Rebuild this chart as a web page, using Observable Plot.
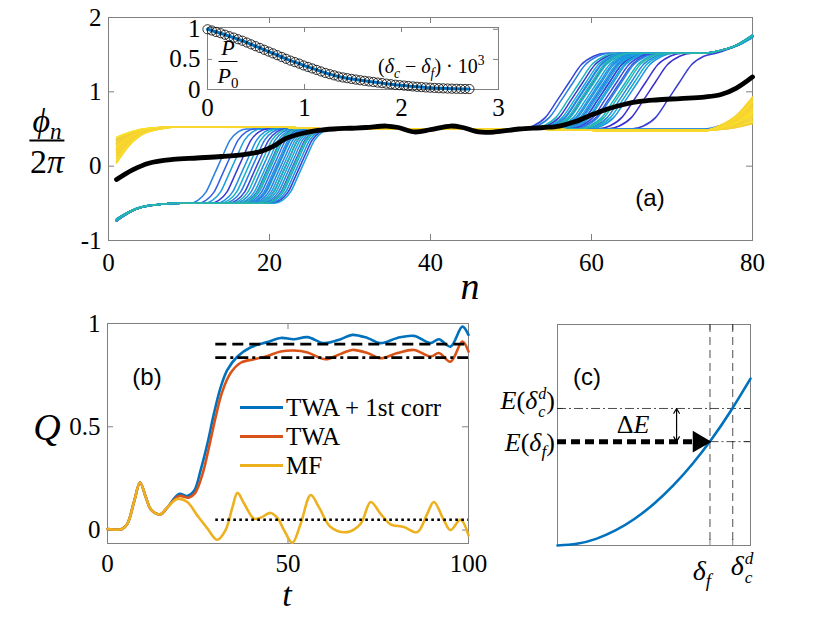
<!DOCTYPE html>
<html><head><meta charset="utf-8">
<script src="https://cdn.jsdelivr.net/npm/d3@7"></script>
<script src="https://cdn.jsdelivr.net/npm/@observablehq/plot@0.6"></script>
<style>
body{margin:0;background:#fff;}
#wrap{position:relative;width:830px;height:623px;overflow:hidden;background:#fff;}
#wrap svg{position:absolute;overflow:visible;}
#wrap svg text{font-family:"Liberation Serif","Times New Roman",serif !important;font-size:25px !important;fill:#000;}
.lbl{position:absolute;font-family:"Liberation Serif","Times New Roman",serif;color:#000;white-space:nowrap;line-height:1;}
.sans{font-family:"Liberation Sans",Arial,Helvetica,sans-serif !important;}
.frac{display:inline-flex;flex-direction:column;align-items:center;}
.frac .num{border-bottom:2px solid #000;padding:0 3px 2px 3px;}
.frac .den{padding-top:3px;}
.ss{display:inline-flex;flex-direction:column;vertical-align:middle;font-size:0.62em;line-height:0.85;gap:4px;margin-left:1px;}
sub,sup{font-size:0.68em;line-height:0;}
.sw{position:absolute;height:3px;}
</style></head><body><div id="wrap"></div>
<script>
// ---------- Panel (a) data ----------
const nTicks = [0, 20, 40, 60, 80];
const phiTicks = [-1, 0, 1, 2];
// transition profile of one phase slip (fraction of the 1-unit jump at offsets from centre)
const slipOffset = [-3.5, -2.5, -1.5, -0.5, 0.5, 1.5, 2.5, 3.5];
const slipFrac   = [0, 0.04, 0.15, 0.38, 0.62, 0.85, 0.96, 1];
// start ramp (n, fraction)
const rampN = [1, 2, 3, 4, 6, 9];
const rampF = [0, 0.32, 0.58, 0.76, 0.92, 1];
// end ramp (n, fraction)
const endN = [74, 76, 78, 80];
const endF = [0, 0.15, 0.45, 1];
// plateau levels
const lowLevel = -0.5, midLevel = 0.5, topLevel = 1.52;
const upperN = [12, 20, 28, 40, 52, 62, 72];
const upperY = [0.53, 0.53, 0.5, 0.5, 0.5, 0.48, 0.48];
// trajectories: colormap position, start value, left slip centre, right slip centre, end value
const trajK = [0.05,0.0,0.12,
  0.2,0.12,0.3,0.02,0.25,0.45,0.18,0.05,0.52,0.22,0.33,0.1,0.38,0.15,0.27,0.5,0.2,0.3,0.0,0.34,0.23,0.06,0.4,0.26,0.03,0.32,0.58,0.2,0.55,0.6,
  0.8,0.86,0.9,0.78,0.95,0.83,0.88,0.92,0.8,0.85,0.98,0.82,0.9,0.87,0.79,0.94,0.84,0.91,0.81,0.96,0.86,0.89];
const trajStart = [0.30,0.36,0.22,
  -0.73,-0.74,-0.72,-0.73,-0.71,-0.74,-0.73,-0.72,-0.74,-0.73,-0.72,-0.73,-0.71,-0.74,-0.73,-0.72,-0.73,-0.74,-0.72,-0.73,-0.71,-0.73,-0.72,-0.74,-0.73,-0.72,-0.73,-0.74,-0.72,-0.73,
  0.06,0.10,0.14,0.18,0.21,0.24,0.27,0.30,0.33,0.36,0.39,0.12,0.20,0.28,0.35,0.08,0.16,0.25,0.31,0.38,0.22,0.04];
const trajLeft = [null,null,null,
  13.6,14.6,15.4,16.2,16.9,17.4,17.9,18.4,18.8,19.2,19.6,19.9,20.2,20.5,20.8,21.1,21.4,21.7,22.0,22.3,22.6,22.9,23.2,23.5,23.8,24.1,20.0,21.0,22.0,23.0,
  null,null,null,null,null,null,null,null,null,null,null,null,null,null,null,null,null,null,null,null,null,null];
const trajRight = [56.5,66.0,61.5,
  57.0,59.5,62.0,58.2,60.5,63.5,59.0,61.5,57.8,64.2,60.0,62.8,58.6,61.0,65.0,59.6,63.0,60.8,67.2,61.8,58.9,62.4,64.6,60.3,70.2,61.2,null,null,59.3,63.8,
  null,null,null,null,null,null,null,null,null,null,null,null,null,null,null,null,null,null,null,null,null,null];
const trajEnd = [1.75,1.74,1.76,
  1.75,1.74,1.76,1.75,1.73,1.76,1.75,1.74,1.77,1.75,1.74,1.76,1.75,1.73,1.76,1.75,1.74,1.76,1.75,1.74,1.76,1.75,1.74,1.76,1.75,1.74,0.7,0.82,1.75,1.76,
  0.57,0.62,0.66,0.70,0.74,0.78,0.82,0.86,0.90,0.93,0.60,0.68,0.76,0.84,0.64,0.72,0.80,0.88,0.58,0.70,0.92,0.75];
// mean phase (black)
const meanN = [1,3,5,8,11,14,17,19,20.5,22,24,26,28,30,32,34.5,36,38,40,42.5,44,46,48,51,54,56,58,60,62,64,66,68,71,74,76,78,80];
const meanY = [-0.18,-0.05,0.04,0.09,0.11,0.13,0.16,0.2,0.27,0.37,0.44,0.48,0.5,0.51,0.52,0.54,0.52,0.46,0.49,0.54,0.52,0.46,0.46,0.5,0.52,0.54,0.6,0.69,0.77,0.83,0.87,0.89,0.91,0.93,0.96,1.05,1.2];
// inset P/P0 vs (delta_c - delta_f)*1e3
const insetTicksX = [0, 1, 2, 3];
const insetTicksY = [0, 0.5, 1];
const insetX = d3.range(61).map(i => i * 0.045);
const insetP = [1.00,0.98,0.955,0.935,0.91,0.885,0.862,0.835,0.81,0.78,0.75,0.72,0.69,0.66,0.63,0.60,0.57,0.54,0.51,0.48,0.455,0.43,0.40,0.375,0.35,0.325,0.30,0.275,0.255,0.235,0.215,0.20,0.188,0.176,0.165,0.154,0.144,0.134,0.125,0.115,0.106,0.097,0.088,0.079,0.072,0.065,0.058,0.051,0.045,0.040,0.034,0.030,0.026,0.022,0.019,0.016,0.014,0.012,0.010,0.009,0.008];

// ---------- Panel (b) data ----------
const tTicks = [0, 50, 100];
const qTicks = [0, 0.5, 1];
const corrT = [0,4,5.5,7.4,9,10.6,12,14.6,16.6,19.8,22.1,24,25.8,27.7,29.5,31.4,33.2,36,39.7,44.3,48,51.6,55.4,60,64.6,67.8,72,75.6,80.3,84.9,89.5,91.8,95,98.3,100];
const corrQ = [0.005,0.005,0.03,0.14,0.23,0.16,0.10,0.076,0.11,0.175,0.165,0.19,0.29,0.42,0.565,0.694,0.775,0.84,0.885,0.91,0.93,0.924,0.934,0.905,0.924,0.945,0.93,0.905,0.93,0.94,0.905,0.924,0.888,0.985,0.945];
const twaT = [0,4,5.5,7.4,9,10.6,12,14.6,16.6,19.8,22.5,24.3,26.3,28.1,30,31.8,34.1,36.9,40.6,44.3,48,51.6,55.4,60.4,64.6,67.8,72,75.6,80.3,84.9,89.5,91.8,95,98.3,100];
const twaQ = [0.005,0.005,0.03,0.14,0.23,0.16,0.10,0.076,0.11,0.165,0.157,0.18,0.27,0.40,0.55,0.67,0.76,0.81,0.827,0.843,0.864,0.869,0.86,0.827,0.853,0.872,0.857,0.832,0.857,0.872,0.84,0.857,0.815,0.913,0.864];
const mfT = [0,4,5.5,7.4,9,10.6,12,14.6,16.6,19.4,22.1,24.9,27.7,30.4,32.7,34.6,36,37.8,40.6,42.4,45.2,47,48.9,51.2,53.5,56.3,58.6,61.8,66.4,70.1,72.9,75.6,78.4,82.1,85.8,88.6,90.4,93.2,95,97.8,100];
const mfQ = [0.005,0.005,0.03,0.14,0.23,0.16,0.10,0.076,0.11,0.15,0.136,0.07,0.007,-0.047,0,0.11,0.18,0.13,0.055,0.06,0.083,0.06,0.0,-0.062,0.03,0.17,0.11,0.015,-0.01,0.03,0.136,0.08,0.028,0.015,-0.01,0.08,0.136,0.047,0,0.05,-0.026];
const refStartT = 30;
const refCorr = 0.9, refTwa = 0.835, refMf = 0.05;

// ---------- Panel (c) data ----------
const deltaX = [0,0.1,0.2,0.3,0.4,0.5,0.6,0.7,0.8,0.9,1.0];
const energy = [0,0.0076,0.030,0.068,0.121,0.189,0.272,0.370,0.483,0.612,0.755];
const deltaF = 0.79, deltaC = 0.908;
const energyF = 0.47, energyC = 0.62;
const deltaEAt = 0.617;

// ---------- helpers ----------
const wrap = document.getElementById("wrap");
const gray = "#808080";
const serif = "Liberation Serif, Times New Roman, serif";
const colorStops = ["#3a30d0","#2f6fe6","#1b9fe0","#14b3c6","#2ab7a6","#f0c83a","#fad92c","#f8e726"];
const colorAt = d3.scaleLinear().domain([0,0.15,0.3,0.45,0.6,0.75,0.9,1]).range(colorStops).interpolate(d3.interpolateRgb);
function place(svg, left, top) { svg.style.left = left + "px"; svg.style.top = top + "px"; wrap.appendChild(svg); }
function label(html, x, y, {size = 24, ax = -50, ay = -50, cls = ""} = {}) {
  const d = document.createElement("div");
  d.className = "lbl " + cls;
  d.style.left = x + "px"; d.style.top = y + "px"; d.style.fontSize = size + "px";
  d.style.transform = `translate(${ax}%,${ay}%)`;
  d.innerHTML = html; wrap.appendChild(d); return d;
}
function boxTicks(xt, yt, fw, fh, len = 6) {
  return [
    Plot.tickX(xt, {x: d => d, insetTop: fh - len, stroke: gray}),
    Plot.tickX(xt, {x: d => d, insetBottom: fh - len, stroke: gray}),
    Plot.tickY(yt, {y: d => d, insetRight: fw - len, stroke: gray}),
    Plot.tickY(yt, {y: d => d, insetLeft: fw - len, stroke: gray})
  ];
}
const fmt = d => String(d);

// build trajectories
const rows = [];
trajK.forEach((k, i) => {
  const s = trajStart[i], L = trajLeft[i], R = trajRight[i], e = trajEnd[i];
  const pts = [];
  const first = L != null ? lowLevel : upperY[0];
  rampN.forEach((n, j) => pts.push([n, s + (first - s) * rampF[j]]));
  if (L != null) slipOffset.forEach((o, j) => pts.push([L + o, lowLevel + (midLevel - lowLevel) * slipFrac[j]]));
  const limit = R != null ? R + 1.5 * slipOffset[0] - 0.5 : 73.5;
  upperN.forEach((n, j) => { if (n > pts[pts.length - 1][0] + 0.8 && n < limit) pts.push([n, L != null ? midLevel : upperY[j]]); });
  let base = pts[pts.length - 1][1];
  if (R != null) {
    slipOffset.forEach((o, j) => pts.push([R + 1.5 * o, base + (topLevel - base) * slipFrac[j]]));
    base = topLevel;
  }
  endN.forEach((n, j) => { if (n > pts[pts.length - 1][0] + 0.8 || n === 80) pts.push([n, base + (e - base) * endF[j]]); });
  pts.sort((a, b) => a[0] - b[0]);
  const clean = pts.filter((p, j) => j === 0 || p[0] > pts[j - 1][0] + 0.05);
  const col = colorAt(k);
  clean.forEach(p => rows.push({id: i, n: p[0], y: p[1], c: col}));
});
const meanRows = meanN.map((n, i) => ({n, y: meanY[i]}));

// ---------- Panel (a) ----------
{
  const W = 830, H = 300, mL = 108, mR = 78, mT = 17, mB = 60;
  const svg = Plot.plot({
    width: W, height: H, marginLeft: mL, marginRight: mR, marginTop: mT, marginBottom: mB,
    style: {fontFamily: serif, fontSize: "25px", background: "transparent", color: "black"},
    x: {domain: [0, 80], ticks: nTicks, tickSize: 0, tickPadding: 13, label: null, tickFormat: fmt},
    y: {domain: [-1, 2], ticks: phiTicks, tickSize: 0, tickPadding: 7, label: null, tickFormat: fmt},
    marks: [
      Plot.frame({stroke: gray}),
      ...boxTicks(nTicks, phiTicks, W - mL - mR, H - mT - mB),
      Plot.line(rows, {x: "n", y: "y", z: "id", stroke: "c", strokeWidth: 1.5, curve: "monotone-x"}),
      Plot.line(meanRows, {x: "n", y: "y", stroke: "black", strokeWidth: 4.8, curve: "catmull-rom"})
    ]
  });
  place(svg, 0, 0);
}
// ---------- Inset ----------
{
  const W = 830, H = 130, mL = 207, mR = 332, mT = 27, mB = 41;
  const pts = insetX.map((x, i) => ({x, p: insetP[i]}));
  const svg = Plot.plot({
    width: W, height: H, marginLeft: mL, marginRight: mR, marginTop: mT, marginBottom: mB,
    style: {fontFamily: serif, fontSize: "25px", background: "transparent", color: "black"},
    x: {domain: [0, 3], ticks: insetTicksX, tickSize: 0, tickPadding: 9, label: null, tickFormat: fmt},
    y: {domain: [0, 1.03], ticks: insetTicksY, tickSize: 0, tickPadding: 7, label: null, tickFormat: fmt},
    marks: [
      Plot.frame({stroke: gray, fill: "white"}),
      ...boxTicks(insetTicksX, insetTicksY, W - mL - mR, H - mT - mB, 5),
      Plot.line(pts, {x: "x", y: "p", stroke: "#0072BD", strokeWidth: 3}),
      Plot.dot(pts, {x: "x", y: "p", r: 4.6, stroke: "black", strokeWidth: 0.8})
    ]
  });
  place(svg, 0, 0);
}
// ---------- Panel (b) ----------
{
  const W = 500, H = 300, mL = 107, mR = 32, mT = 23, mB = 57;
  const mk = (T, Q) => T.map((t, i) => ({t, q: Q[i]}));
  const svg = Plot.plot({
    width: W, height: H, marginLeft: mL, marginRight: mR, marginTop: mT, marginBottom: mB,
    style: {fontFamily: serif, fontSize: "25px", background: "transparent", color: "black"},
    x: {domain: [0, 100], ticks: tTicks, tickSize: 0, tickPadding: 11, label: null, tickFormat: fmt},
    y: {domain: [-0.065, 1], ticks: qTicks, tickSize: 0, tickPadding: 7, label: null, tickFormat: fmt},
    marks: [
      Plot.frame({stroke: gray}),
      ...boxTicks(tTicks, qTicks, W - mL - mR, H - mT - mB),
      Plot.line(mk(corrT, corrQ), {x: "t", y: "q", stroke: "#0072BD", strokeWidth: 2.6, curve: "catmull-rom"}),
      Plot.line(mk(twaT, twaQ), {x: "t", y: "q", stroke: "#D95319", strokeWidth: 2.6, curve: "catmull-rom"}),
      Plot.line(mk(mfT, mfQ), {x: "t", y: "q", stroke: "#EDB120", strokeWidth: 2.6, curve: "catmull-rom"}),
      Plot.ruleY([refCorr], {x1: refStartT, x2: 100, stroke: "black", strokeWidth: 2.6, strokeDasharray: "11,6"}),
      Plot.ruleY([refTwa], {x1: refStartT, x2: 100, stroke: "black", strokeWidth: 2.6, strokeDasharray: "11,4,3,4"}),
      Plot.ruleY([refMf], {x1: refStartT, x2: 100, stroke: "black", strokeWidth: 2.6, strokeDasharray: "2.6,3.4"})
    ]
  });
  place(svg, 0, 300);
}
// ---------- Panel (c) ----------
{
  const W = 330, H = 300, mL = 57, mR = 80, mT = 24, mB = 55;
  const curve = deltaX.map((x, i) => ({x, e: energy[i]}));
  const fw = W - mL - mR, fh = H - mT - mB;
  const svg = Plot.plot({
    width: W, height: H, marginLeft: mL, marginRight: mR, marginTop: mT, marginBottom: mB,
    style: {fontFamily: serif, fontSize: "25px", background: "transparent", color: "black"},
    x: {domain: [0, 1], axis: null},
    y: {domain: [0, 1], axis: null},
    marks: [
      Plot.frame({stroke: gray}),
      ...boxTicks([deltaF, deltaC], [energyF, energyC], fw, fh),
      Plot.ruleX([deltaF, deltaC], {stroke: "black", strokeWidth: 0.7, strokeDasharray: "8,5"}),
      Plot.ruleY([energyC], {stroke: "black", strokeWidth: 0.7, strokeDasharray: "9,3,2,3"}),
      Plot.ruleY([energyF], {x1: deltaF, x2: 1, stroke: "black", strokeWidth: 0.7, strokeDasharray: "9,3,2,3"}),
      Plot.line(curve, {x: "x", y: "e", stroke: "#0072BD", strokeWidth: 2.6, curve: "natural"}),
      Plot.ruleY([energyF], {x1: 0, x2: deltaF, insetRight: 14, stroke: "black", strokeWidth: 5, strokeDasharray: "9,5"}),
      Plot.dot([{x: deltaF, y: energyF}], {x: "x", y: "y", symbol: "triangle", rotate: 90, r: 8, fill: "black", stroke: "none", dx: -11}),
      Plot.arrow([{y1: (energyF + energyC) / 2, y2: energyC}, {y1: (energyF + energyC) / 2, y2: energyF}],
        {x1: () => deltaEAt, x2: () => deltaEAt, y1: "y1", y2: "y2", stroke: "black", strokeWidth: 1.2, headLength: 7})
    ]
  });
  place(svg, 500, 300);
}
// ---------- text ----------
label('<span class="frac"><span class="num"><i>ϕ</i><sub><i>n</i></sub></span><span class="den">2<i>π</i></span></span>', 47, 141, {size: 34});
label('<i>n</i>', 470, 286, {size: 38});
label('<i>Q</i>', 47, 427, {size: 38});
label('<i>t</i>', 287, 595, {size: 34});
label('<span class="frac"><span class="num" style="border-bottom-width:1.5px"><i>P</i></span><span class="den"><i>P</i><sub>0</sub></span></span>', 228, 62, {size: 22});
label('(<i>δ</i><sub><i>c</i></sub> − <i>δ</i><sub><i>f</i></sub>) · 10<sup>3</sup>', 378, 66, {size: 20, ax: 0});
label('(a)', 650, 198, {size: 24, cls: "sans"});
label('(b)', 147, 377, {size: 24, cls: "sans"});
label('(c)', 587, 377, {size: 24, cls: "sans"});
// legend of (b)
const legendNames = ["TWA + 1st corr", "TWA", "MF"];
const legendColors = ["#0072BD", "#D95319", "#EDB120"];
legendNames.forEach((name, i) => {
  const y = 407 + i * 29;
  const sw = document.createElement("div");
  sw.className = "sw"; sw.style.left = "240px"; sw.style.width = "43px"; sw.style.top = (y - 1.5) + "px";
  sw.style.background = legendColors[i]; wrap.appendChild(sw);
  label(name, 286, y, {size: 25, ax: 0});
});
// panel (c) labels
label('<i>E</i>(<i>δ</i><span class="ss"><i>d</i><i>c</i></span>)', 555, 403, {size: 26, ax: -100});
label('<i>E</i>(<i>δ</i><sub><i>f</i></sub>)', 555, 443, {size: 26, ax: -100});
label('Δ<i>E</i>', 633, 425, {size: 26});
label('<i>δ</i><sub><i>f</i></sub>', 702, 571, {size: 28});
label('<i>δ</i><span class="ss"><i>d</i><i>c</i></span>', 742, 569, {size: 28});
</script></body></html>
